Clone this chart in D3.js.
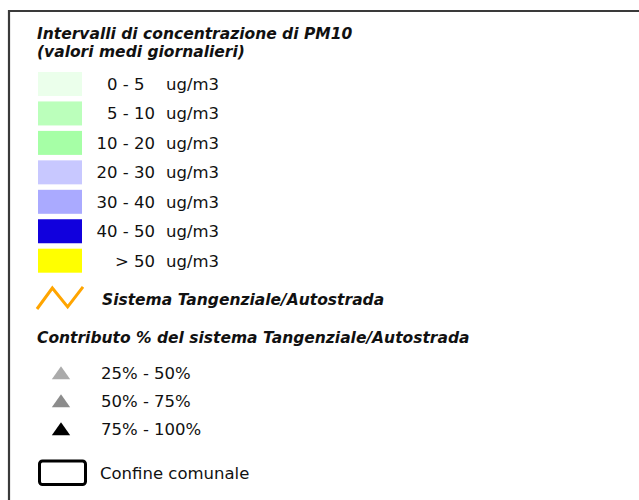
<!DOCTYPE html>
<html lang="it">
<head>
<meta charset="UTF-8">
<title>Legenda PM10</title>
<script src="https://d3js.org/d3.v7.min.js"></script>
<style>
  body { margin: 0; background: #fff; }
  svg text { font-family: "DejaVu Sans", sans-serif; fill: #111; }
  .head { font-weight: bold; font-style: italic; font-size: 15.5px; }
  .lab { font-size: 16.5px; }
</style>
</head>
<body>
<script>
// legend classes (PM10 daily means)
const titleLines = ["Intervalli di concentrazione di PM10", "(valori medi giornalieri)"];
const classLabels = ["0 - 5\u2007", "5 - 10", "10 - 20", "20 - 30", "30 - 40", "40 - 50", "> 50"];
const classColors = ["#ebffeb", "#bbffbb", "#a6ffa6", "#c8c8ff", "#aaaaff", "#1100dd", "#ffff00"];
const unit = "ug/m3";
// road symbol
const roadLabel = "Sistema Tangenziale/Autostrada";
const roadZig = [0, 1, 0.1, 1.05];
// contribution classes
const contribTitle = "Contributo % del sistema Tangenziale/Autostrada";
const contribLabels = ["25% - 50%", "50% - 75%", "75% - 100%"];
const contribColors = ["#ababab", "#8c8c8c", "#000000"];
const boundaryLabel = "Confine comunale";

const w = 639, h = 500;
const svg = d3.select('body').append('svg')
    .attr('width', w).attr('height', h);

// frame (top and left edges)
svg.append('path')
    .attr('d', d3.line()([[9, h], [9, 11], [w, 11]]))
    .attr('fill', 'none')
    .attr('stroke', '#3a3a3a')
    .attr('stroke-width', 2.2);

svg.selectAll('text.title')
    .data(titleLines)
    .enter().append('text')
    .attr('class', 'head')
    .attr('x', 37)
    .attr('y', (d, i) => 39 + i * 18)
    .text(d => d);

// class swatches
const yRow = d3.scaleBand()
    .domain(classLabels)
    .range([72, 272.7])
    .paddingInner(0.185);

const rows = svg.append('g').selectAll('g')
    .data(classLabels)
    .enter().append('g')
    .attr('transform', d => 'translate(0,' + yRow(d) + ')');

rows.append('rect')
    .attr('x', 38)
    .attr('width', 44)
    .attr('height', yRow.bandwidth())
    .attr('fill', (d, i) => classColors[i]);

rows.append('text')
    .attr('class', 'lab')
    .attr('x', 155)
    .attr('y', yRow.bandwidth() / 2 + 6)
    .attr('text-anchor', 'end')
    .text(d => d);

rows.append('text')
    .attr('class', 'lab')
    .attr('x', 166)
    .attr('y', yRow.bandwidth() / 2 + 6)
    .text(unit);

// road zigzag
const zx = d3.scalePoint().domain(d3.range(roadZig.length)).range([37, 83]);
const zy = d3.scaleLinear().domain([0, 1]).range([309, 288]);
svg.append('path')
    .attr('d', d3.line().x((d, i) => zx(i)).y(d => zy(d))(roadZig))
    .attr('fill', 'none')
    .attr('stroke', '#ffa500')
    .attr('stroke-width', 3);

svg.append('text')
    .attr('class', 'head')
    .attr('x', 102)
    .attr('y', 305)
    .text(roadLabel);

svg.append('text')
    .attr('class', 'head')
    .attr('x', 37)
    .attr('y', 343)
    .text(contribTitle);

// contribution triangles
const yTri = d3.scalePoint()
    .domain(contribLabels)
    .range([375, 431]);

const tri = svg.append('g').selectAll('g')
    .data(contribLabels)
    .enter().append('g')
    .attr('transform', d => 'translate(0,' + yTri(d) + ')');

tri.append('path')
    .attr('transform', 'translate(61,0) scale(1.15,0.95)')
    .attr('d', d3.symbol(d3.symbolTriangle, 110)())
    .attr('fill', (d, i) => contribColors[i]);

tri.append('text')
    .attr('class', 'lab')
    .attr('x', 101)
    .attr('y', 4)
    .text(d => d);

// municipal boundary
svg.append('rect')
    .attr('x', 39.5)
    .attr('y', 461)
    .attr('width', 46)
    .attr('height', 23.5)
    .attr('rx', 3)
    .attr('fill', 'none')
    .attr('stroke', '#000')
    .attr('stroke-width', 3);

svg.append('text')
    .attr('class', 'lab')
    .attr('x', 100)
    .attr('y', 479)
    .text(boundaryLabel);
</script>
</body>
</html>
